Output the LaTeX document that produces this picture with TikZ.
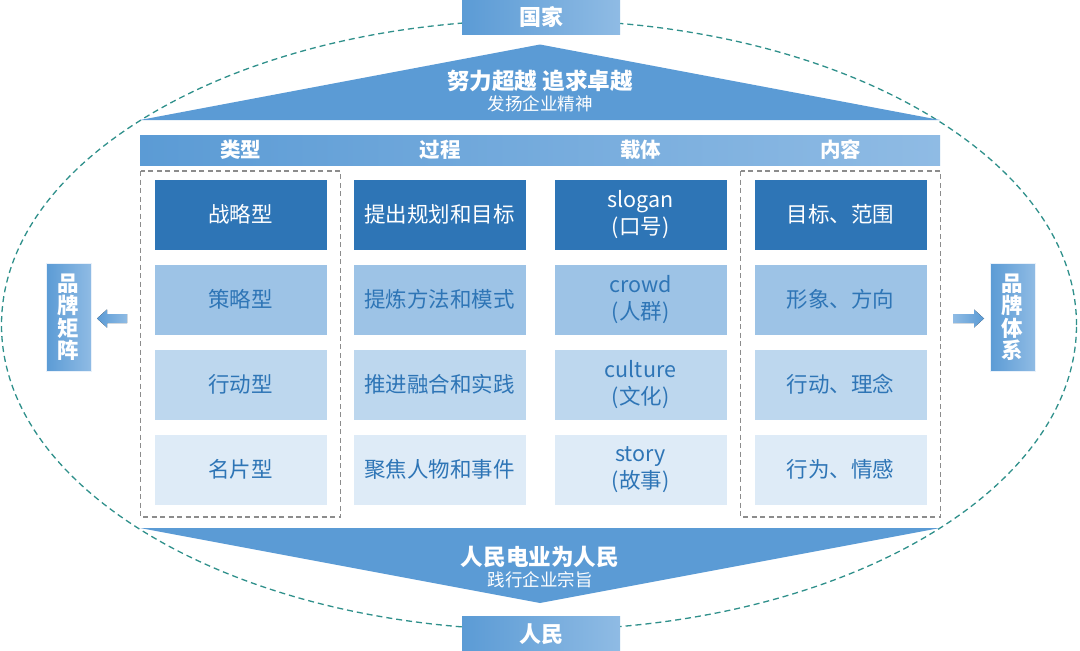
\documentclass[tikz,border=0pt]{standalone}
\usepackage{fontspec}
\setmainfont{Noto Sans CJK SC}
\usetikzlibrary{shapes.arrows}
\definecolor{roof}{HTML}{5B9BD5}
\definecolor{gradL}{HTML}{5B9BD5}
\definecolor{gradR}{HTML}{8FBBE4}
\definecolor{rowA}{HTML}{2E75B6}
\definecolor{rowB}{HTML}{9DC3E6}
\definecolor{rowC}{HTML}{BDD7EE}
\definecolor{rowD}{HTML}{DEEBF7}
\definecolor{txtblue}{HTML}{2E75B6}
\definecolor{teal}{HTML}{2F908B}
\definecolor{dgray}{HTML}{8C8C8C}
\tikzset{
  cellbase/.style={minimum width=173pt, minimum height=71pt, inner sep=0pt, align=center,
    font=\fontsize{21.5}{27.5}\selectfont, draw=white, line width=0.6pt},
  cellA/.style={cellbase, fill=rowA, text=white},
  cellB/.style={cellbase, fill=rowB, text=txtblue},
  cellC/.style={cellbase, fill=rowC, text=txtblue},
  cellD/.style={cellbase, fill=rowD, text=txtblue},
  headtxt/.style={text=white, font=\fontsize{20.5}{23}\selectfont\bfseries, inner sep=0pt},
  bigtxt/.style={text=white, font=\fontsize{22.6}{25}\selectfont\bfseries, inner sep=0pt},
  subtxt/.style={text=white, font=\fontsize{17.5}{20}\selectfont, inner sep=0pt},
  sidebox/.style={minimum width=45pt, minimum height=108pt, inner sep=0pt, align=center,
    left color=gradL, right color=gradR, draw=white!80!gradR, line width=0.6pt,
    text=white, font=\fontsize{21.5}{22.5}\selectfont\bfseries},
  endbox/.style={minimum width=158pt, inner sep=0pt, left color=gradL, right color=gradR,
    text=white, font=\fontsize{22}{24}\selectfont\bfseries},
  grayframe/.style={draw=dgray, line width=1.4pt, dash pattern=on 5pt off 3.5pt},
}
\begin{document}
\begin{tikzpicture}[x=1pt,y=-1pt]
\useasboundingbox (0,0) rectangle (1080,651);
\fill[white] (0,0) rectangle (1080,651);
% dashed ellipse
\draw[teal, line width=1.3pt, dash pattern=on 6pt off 4pt] (539,325) ellipse [x radius=537.5pt, y radius=305pt];
% top box and roof
\node[endbox, minimum height=34pt] (guojia) at (541,17) {国家};
\fill[roof] (140,120) -- (540,44.5) -- (940,120) -- cycle;
\node[bigtxt] (roof1) at (540,81) {努力超越 追求卓越};
\node[subtxt] (roof2) at (540,104) {发扬企业精神};
% header bar
\fill[left color=gradL, right color=gradR] (140,135) rectangle (940,165);
\node[headtxt] (h1) at (240.5,150) {类型};
\node[headtxt] (h2) at (440,150) {过程};
\node[headtxt] (h3) at (640.5,150) {载体};
\node[headtxt] (h4) at (840.5,150) {内容};
% dashed frames
\draw[grayframe] (140.5,171) rectangle (340.5,517);
\draw[grayframe] (740.5,171) rectangle (940.5,517);
% cells
\node[cellA] (a1) at (240.5,214.5) {战略型};
\node[cellB] (a2) at (240.5,299.5) {策略型};
\node[cellC] (a3) at (240.5,384.5) {行动型};
\node[cellD] (a4) at (240.5,469.5) {名片型};
\node[cellA] (b1) at (439.5,214.5) {提出规划和目标};
\node[cellB] (b2) at (439.5,299.5) {提炼方法和模式};
\node[cellC] (b3) at (439.5,384.5) {推进融合和实践};
\node[cellD] (b4) at (439.5,469.5) {聚焦人物和事件};
\node[cellA] (c1) at (640.5,214.5) {slogan\\(口号)};
\node[cellB] (c2) at (640.5,299.5) {crowd\\(人群)};
\node[cellC] (c3) at (640.5,384.5) {culture\\(文化)};
\node[cellD] (c4) at (640.5,469.5) {story\\(故事)};
\node[cellA] (d1) at (840.5,214.5) {目标、范围};
\node[cellB] (d2) at (840.5,299.5) {形象、方向};
\node[cellC] (d3) at (840.5,384.5) {行动、理念};
\node[cellD] (d4) at (840.5,469.5) {行为、情感};
% bottom roof and box
\fill[roof] (140,528) -- (940,528) -- (540,603) -- cycle;
\node[bigtxt] (base1) at (540,557) {人民电业为人民};
\node[subtxt] (base2) at (540,580) {践行企业宗旨};
\node[endbox, minimum height=36pt] (renmin) at (541,634) {人民};
% side boxes
\node[sidebox] (left) at (68.5,317) {品\\牌\\矩\\阵};
\node[sidebox] (right) at (1012.5,317) {品\\牌\\体\\系};
% arrows
\fill[left color=gradL, right color=gradR] (97,318.5) -- (107,309.5) -- (107,314) -- (127,314) -- (127,323) -- (107,323) -- (107,327.5) -- cycle;
\fill[left color=gradR, right color=gradL] (984,318.5) -- (974,309.5) -- (974,314) -- (953,314) -- (953,323) -- (974,323) -- (974,327.5) -- cycle;
\end{tikzpicture}
\end{document}
